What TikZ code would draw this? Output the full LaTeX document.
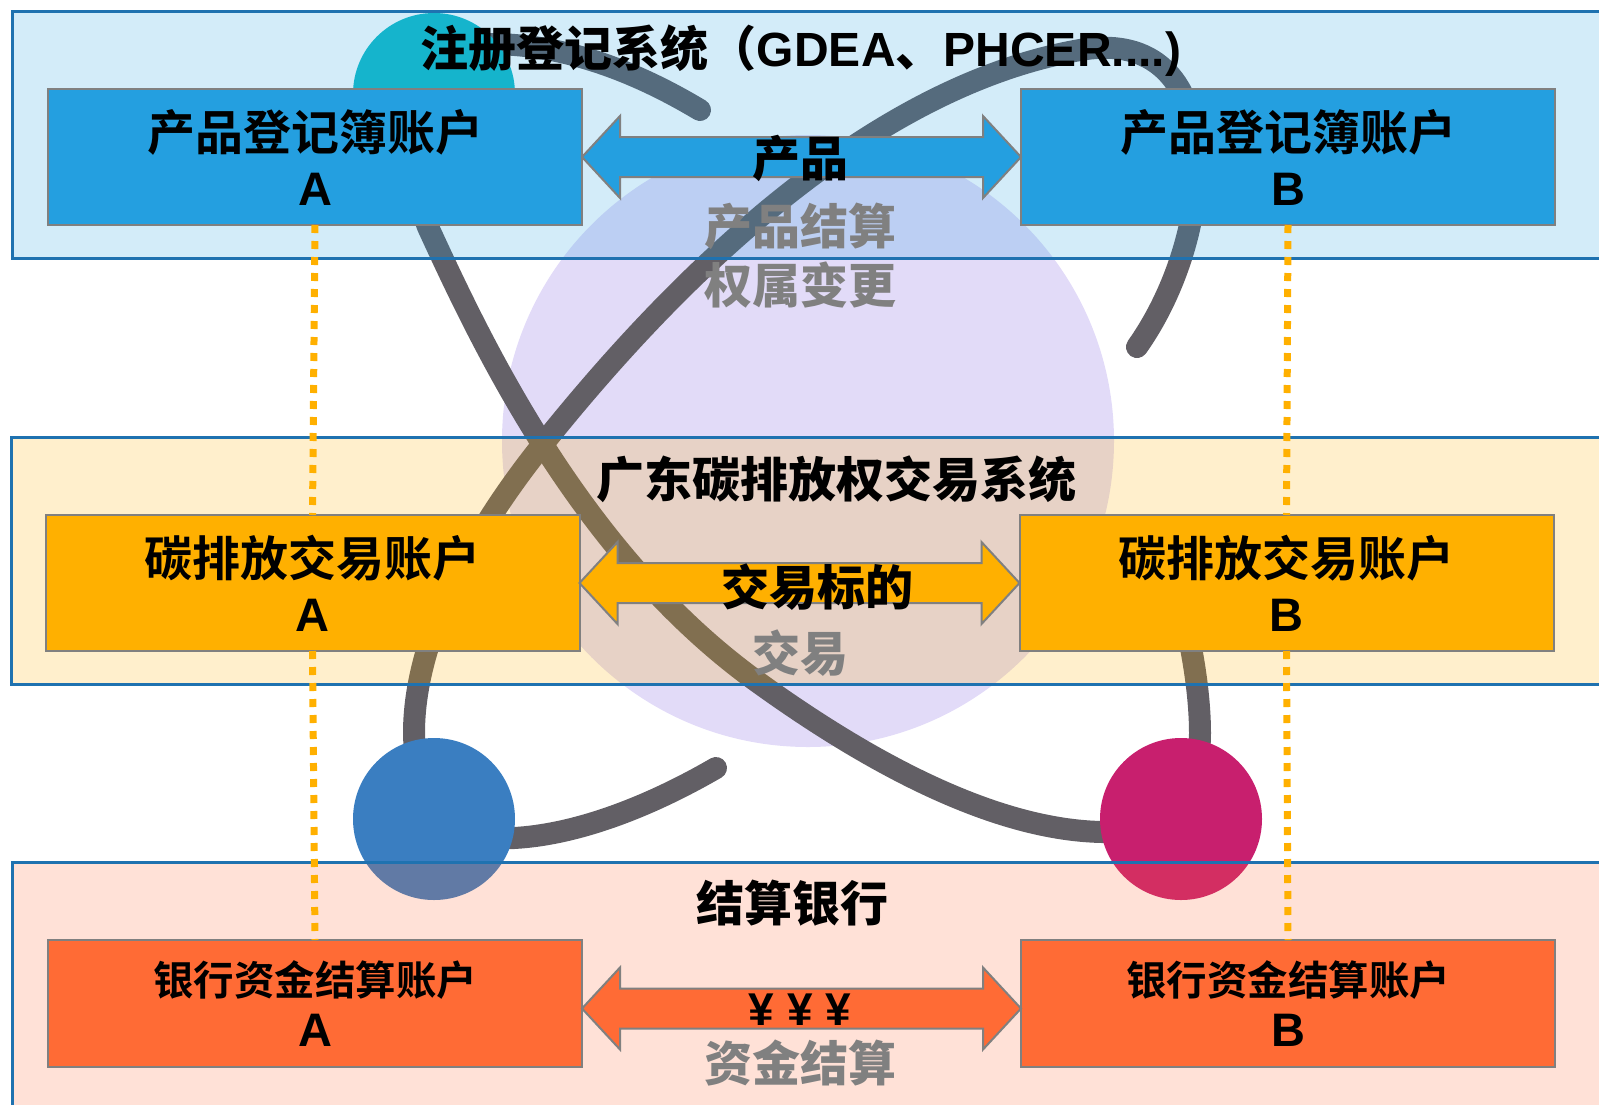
\documentclass[tikz,border=0pt]{standalone}
\usepackage{fontspec}
\setmainfont{Liberation Sans}
\newfontfamily\cjk{Noto Sans CJK SC Black}
\usetikzlibrary{calc, positioning}

\definecolor{boxblue}{RGB}{36,159,224}
\definecolor{boxorange}{RGB}{255,176,0}
\definecolor{boxred}{RGB}{255,107,53}
\definecolor{edgeblue}{RGB}{31,114,176}
\definecolor{boxedge}{RGB}{128,128,128}
\definecolor{orbitgray}{RGB}{98,95,101}
\definecolor{lavender}{RGB}{226,219,248}
\definecolor{tealdot}{RGB}{18,186,200}
\definecolor{bluedot}{RGB}{58,126,193}
\definecolor{pinkdot}{RGB}{200,31,110}

\begin{document}
\begin{tikzpicture}[x=1pt, y=-1pt,
  band/.style = {draw=edgeblue, line width=3pt, fill opacity=0.2},
  acct/.style = {draw=boxedge, line width=2pt, outer sep=0pt, inner sep=0pt,
    minimum width=534pt, minimum height=136pt, align=center,
    font=\bfseries\fontsize{47}{55}\selectfont},
  orbit/.style = {orbitgray, line width=22pt, line cap=round},
  ttl/.style = {font=\cjk\fontsize{48}{55}\selectfont, inner sep=0pt},
  note/.style = {font=\cjk\fontsize{48}{59}\selectfont, text=gray, align=center, inner sep=0pt},
  link/.style = {boxorange, line width=7pt, dash pattern=on 8pt off 8pt}]
\useasboundingbox (0,0) rectangle (1599,1104);
\clip (0,0) rectangle (1599,1104);

% atom behind the bands
\fill[lavender] (808,441) circle[radius=306pt];
\draw[orbit] (700,110) .. controls (630,68) and (560,44) .. (490,44)
  .. controls (430,44) and (405,170) .. (428,227)
  .. controls (480,340) and (580,555) .. (759,683)
  .. controls (880,770) and (1000,830) .. (1102,832)
  .. controls (1180,834) and (1200,780) .. (1200,733)
  .. controls (1200,680) and (1185,600) .. (1160,545);
\draw[orbit] (716,768) .. controls (640,812) and (570,835) .. (514,838)
  .. controls (450,840) and (414,790) .. (414,733)
  .. controls (414,640) and (470,535) .. (543,444)
  .. controls (647,314) and (850,90) .. (1080,50)
  .. controls (1230,24) and (1220,230) .. (1137,347);
\fill[tealdot] (434,94) circle[radius=81pt];
\fill[bluedot] (434,819) circle[radius=81pt];
\fill[pinkdot] (1181,819) circle[radius=81pt];

% bands
\draw[band, fill=boxblue] (12,11) rectangle (1640,258);
\draw[band, fill=boxorange] (11,437) rectangle (1640,684);
\draw[band, fill=boxred] (12,862) rectangle (1640,1140);

% accounts
\node[acct, fill=boxblue] (pa) at (315,157) {{\cjk\fontsize{48}{55}\selectfont 产品登记簿账户}\\A};
\node[acct, fill=boxblue, right=439pt of pa] (pb) {{\cjk\fontsize{48}{55}\selectfont 产品登记簿账户}\\B};
\node[acct, fill=boxorange] (ta) at (312.5,583) {{\cjk\fontsize{48}{55}\selectfont 碳排放交易账户}\\A};
\node[acct, fill=boxorange, right=440pt of ta] (tb) {{\cjk\fontsize{48}{55}\selectfont 碳排放交易账户}\\B};
\node[acct, fill=boxred, minimum height=127pt, font=\bfseries\fontsize{47}{51}\selectfont] (ba) at (315,1003.5) {{\cjk\fontsize{40.5}{51}\selectfont 银行资金结算账户}\\A};
\node[acct, fill=boxred, minimum height=127pt, font=\bfseries\fontsize{47}{51}\selectfont, right=439pt of ba] (bb) {{\cjk\fontsize{40.5}{51}\selectfont 银行资金结算账户}\\B};

\foreach \l/\r/\c/\d in {pa/pb/boxblue/0, ta/tb/boxorange/0, ba/bb/boxred/5}{
\draw[boxedge, line width=2pt, fill=\c] ($(\l.east)+(0,\d)$) -- ++(38,-41) -- ++(0,21)
  -- ($(\r.west)+(-38,\d-20)$) -- ++(0,-21) -- ($(\r.west)+(0,\d)$) -- ++(-38,41)
  -- ++(0,-21) -- ($(\l.east)+(38,\d+20)$) -- ++(0,21) -- cycle;
}
\foreach \i/\j in {pa/ta, ta/ba, pb/tb, tb/bb}{
\draw[link] (\i.south) -- (\j.north);
}

% titles and labels
\node[ttl] (regtitle) at (801,51) {注册登记系统（{\rmfamily\bfseries GDEA}、{\rmfamily\bfseries PHCER....)}};
\node[ttl] (mkttitle) at (836,479) {广东碳排放权交易系统};
\node[ttl] (banktitle) at (792,903) {结算银行};
\node[ttl] (prodlbl) at (800,158) {产品};
\node[ttl] (tradelbl) at (817,587) {交易标的};
\node[ttl, font=\bfseries\fontsize{46}{55}\selectfont] (yenlbl) at (800,1010) {¥ ¥ ¥};
\node[note] (prodnote) at (800,256) {产品结算\\权属变更};
\node[note] (tradenote) at (800,653) {交易};
\node[note] (cashnote) at (800,1063) {资金结算};
\end{tikzpicture}
\end{document}
